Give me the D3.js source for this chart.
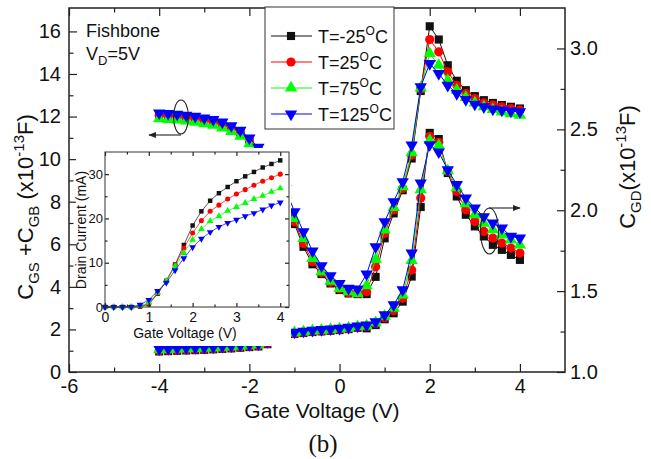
<!DOCTYPE html>
<html>
<head>
<meta charset="utf-8">
<style>
  body { margin: 0; background: #fff; }
  text { font-family: "Liberation Sans", Arial, sans-serif; fill: #111; }
</style>
</head>
<body>
<script src="https://d3js.org/d3.v7.min.js"></script>
<div id="chart"></div>
<script>
// gate voltage steps of the main plot
const vg = [-4,-3.8,-3.6,-3.4,-3.2,-3,-2.8,-2.6,-2.4,-2.2,-2,-1.8,-1.6,-1.4,-1.2,-1,-0.8,-0.6,-0.4,-0.2,
            0,0.2,0.4,0.6,0.8,1,1.2,1.4,1.6,1.8,2,2.2,2.4,2.6,2.8,3,3.2,3.4,3.6,3.8,4];

// CGS+CGB (x1e-13 F), left axis
const cgsBlack = [12.10,12.07,12.04,11.99,11.94,11.86,11.79,11.67,11.50,11.28,10.92,10.45,9.95,9.30,8.20,
                  6.95,5.88,5.06,4.60,4.16,3.85,3.69,3.66,3.66,4.47,6.28,7.45,8.54,10.03,13.20,
                  16.24,15.62,14.41,13.68,13.24,12.96,12.77,12.64,12.54,12.46,12.38];
const cgsRed   = [12.05,12.02,11.99,11.94,11.89,11.81,11.74,11.62,11.45,11.23,10.87,10.40,9.90,9.25,8.25,
                  7.06,6.04,5.18,4.66,4.21,3.90,3.72,3.69,3.77,4.94,6.51,7.61,8.62,10.19,13.30,
                  15.62,15.04,14.10,13.47,13.08,12.85,12.64,12.54,12.46,12.38,12.30];
const cgsGreen = [11.90,11.87,11.84,11.79,11.74,11.66,11.59,11.47,11.30,11.08,10.72,10.30,9.85,9.25,8.35,
                  7.21,6.28,5.34,4.71,4.27,3.93,3.77,3.69,4.05,5.29,6.67,7.73,8.70,10.30,13.35,
                  14.96,14.41,13.70,13.24,12.90,12.64,12.46,12.33,12.22,12.14,12.07];
const cgsBlue  = [12.17,12.14,12.11,12.06,12.01,11.93,11.86,11.74,11.57,11.35,10.99,10.55,10.05,9.45,8.60,
                  7.53,6.59,5.68,4.99,4.52,4.16,3.93,3.90,4.60,5.88,7.06,8.00,8.93,10.66,13.40,
                  14.49,14.02,13.47,13.08,12.80,12.58,12.46,12.35,12.30,12.26,12.22];

// CGD (x1e-13 F), right axis
const cgdBlack = [1.127,1.129,1.131,1.133,1.135,1.137,1.140,1.143,1.146,1.150,1.154,1.158,1.172,1.192,1.212,
                  1.235,1.241,1.247,1.251,1.255,1.259,1.265,1.273,1.27,1.29,1.326,1.363,1.435,1.59,2.02,
                  2.478,2.44,2.23,2.085,1.972,1.90,1.838,1.786,1.755,1.724,1.693];
const cgdRed   = [1.131,1.133,1.135,1.137,1.139,1.141,1.144,1.147,1.150,1.154,1.158,1.162,1.176,1.196,1.216,
                  1.238,1.244,1.250,1.254,1.258,1.262,1.268,1.276,1.28,1.30,1.335,1.38,1.456,1.63,2.075,
                  2.457,2.42,2.24,2.116,2.003,1.93,1.869,1.828,1.797,1.766,1.735];
const cgdGreen = [1.138,1.140,1.142,1.144,1.146,1.148,1.151,1.154,1.157,1.161,1.165,1.169,1.183,1.203,1.223,
                  1.243,1.249,1.255,1.259,1.263,1.267,1.273,1.281,1.285,1.305,1.345,1.395,1.477,1.69,2.127,
                  2.432,2.40,2.245,2.14,2.04,1.972,1.92,1.879,1.848,1.817,1.786];
const cgdBlue  = [1.143,1.145,1.147,1.149,1.151,1.153,1.156,1.159,1.162,1.166,1.170,1.174,1.188,1.208,1.228,
                  1.246,1.252,1.258,1.262,1.266,1.270,1.276,1.284,1.29,1.31,1.353,1.415,1.508,1.735,2.168,
                  2.405,2.36,2.25,2.158,2.075,2.014,1.96,1.92,1.89,1.838,1.828];

// inset: drain current (mA)
const vgInset = [0,0.2,0.4,0.6,0.8,1,1.2,1.4,1.6,1.8,2,2.2,2.4,2.6,2.8,3,3.2,3.4,3.6,3.8,4];
const idBlack = [0,0,0,0,0.1,0.6,3.0,5.9,9.6,14.0,18.4,21.6,24.0,25.7,27.1,28.4,29.5,30.5,31.5,32.3,33.1];
const idRed   = [0,0,0,0,0.15,0.8,3.1,5.9,9.4,13.3,16.7,19.5,21.6,23.0,24.4,25.5,26.5,27.5,28.4,29.2,30.0];
const idGreen = [0,0,0,0,0.2,1.0,3.2,5.9,9.2,12.2,15.2,17.6,19.4,20.5,21.7,22.6,23.5,24.4,25.1,26.0,26.8];
const idBlue  = [0,0,0,0,0.5,1.6,3.6,5.5,8.3,11.0,13.5,15.4,16.9,18.1,19.0,19.7,20.5,21.2,22.0,22.9,23.6];

const temps = ["-25", "25", "75", "125"];
const colors = ["#111111", "#ff0000", "#00ff00", "#0000ff"];
const shapes = ["square", "circle", "up", "down"];

const xTicks = [-6,-4,-2,0,2,4];
const xMinor = [-5,-3,-1,1,3];
const yLTicks = [0,2,4,6,8,10,12,14,16];
const yLMinor = [1,3,5,7,9,11,13,15];
const yRTicks = [1.0,1.5,2.0,2.5,3.0];
const yRMinor = [1.25,1.75,2.25,2.75];
const xiTicks = [0,1,2,3,4];
const xiMinor = [0.5,1.5,2.5,3.5];
const yiTicks = [0,10,20,30];
const yiMinor = [5,15,25];

const width = 651, height = 459;
const svg = d3.select("#chart").append("svg")
  .attr("width", width).attr("height", height)
  .style("background", "#fff");

// main plot box
const L = 69, R = 565, T = 8, B = 372;
const x = d3.scaleLinear().domain([-6, 5]).range([L, R]);
const yL = d3.scaleLinear().domain([0, 17.1]).range([B, T]);
const yR = d3.scaleLinear().domain([1, 3.25]).range([B, T]);

// marker path generator
function marker(shape, s) {
  if (shape == "square") return d3.symbol(d3.symbolSquare, s)();
  if (shape == "circle") return d3.symbol(d3.symbolCircle, s)();
  return d3.symbol(d3.symbolTriangle, s)();
}
function drawSeries(g, xs, ys, sx, sy, k, msize, lw) {
  const pts = xs.map((v, i) => [sx(v), sy(ys[i])]);
  g.append("path")
    .attr("d", d3.line()(pts))
    .attr("fill", "none")
    .attr("stroke", colors[k])
    .attr("stroke-width", lw);
  pts.forEach(p => {
    g.append("path")
      .attr("d", marker(shapes[k], msize))
      .attr("transform", "translate(" + p[0] + "," + p[1] + ")" + (shapes[k] == "down" ? " rotate(180)" : ""))
      .attr("fill", colors[k]);
  });
}

const main = svg.append("g");
const cgs = [cgsBlack, cgsRed, cgsGreen, cgsBlue];
const cgd = [cgdBlack, cgdRed, cgdGreen, cgdBlue];
cgd.forEach((s, k) => drawSeries(main, vg, s, x, yR, k, 66, 1));
cgs.forEach((s, k) => drawSeries(main, vg, s, x, yL, k, 66, 1));

// ticks (inward on all sides)
function noDomain(g) { g.select(".domain").remove(); g.selectAll("line").attr("stroke", "#222").attr("stroke-width", 1.3); }
svg.append("g").attr("transform", "translate(0," + B + ")")
  .call(d3.axisBottom(x).tickValues(xTicks).tickSize(-8).tickPadding(7).tickFormat(d => String(d)))
  .call(noDomain).selectAll("text").style("font-size", "20px").attr("font-family", null);
svg.append("g").attr("transform", "translate(0," + B + ")")
  .call(d3.axisBottom(x).tickValues(xMinor).tickSize(-4.5).tickFormat("")).call(noDomain);
svg.append("g").attr("transform", "translate(0," + T + ")")
  .call(d3.axisTop(x).tickValues(xTicks).tickSize(-8).tickFormat("")).call(noDomain);
svg.append("g").attr("transform", "translate(0," + T + ")")
  .call(d3.axisTop(x).tickValues(xMinor).tickSize(-4.5).tickFormat("")).call(noDomain);
svg.append("g").attr("transform", "translate(" + L + ",0)")
  .call(d3.axisLeft(yL).tickValues(yLTicks).tickSize(-8).tickPadding(8).tickFormat(d => String(d)))
  .call(noDomain).selectAll("text").style("font-size", "20px").attr("font-family", null);
svg.append("g").attr("transform", "translate(" + L + ",0)")
  .call(d3.axisLeft(yL).tickValues(yLMinor).tickSize(-4.5).tickFormat("")).call(noDomain);
svg.append("g").attr("transform", "translate(" + R + ",0)")
  .call(d3.axisRight(yR).tickValues(yRTicks).tickSize(-8).tickPadding(5).tickFormat(d3.format(".1f")))
  .call(noDomain).selectAll("text").style("font-size", "20px").attr("font-family", null);
svg.append("g").attr("transform", "translate(" + R + ",0)")
  .call(d3.axisRight(yR).tickValues(yRMinor).tickSize(-4.5).tickFormat("")).call(noDomain);

svg.append("rect")
  .attr("x", L).attr("y", T).attr("width", R - L).attr("height", B - T)
  .attr("fill", "none").attr("stroke", "#222").attr("stroke-width", 1.5);

// annotation ellipses and arrows
svg.append("defs").append("marker")
  .attr("id", "ah").attr("viewBox", "0 0 10 10").attr("refX", 9).attr("refY", 5)
  .attr("markerWidth", 9).attr("markerHeight", 7).attr("orient", "auto")
  .append("path").attr("d", "M0,1 L10,5 L0,9 Z").attr("fill", "#222");
svg.append("ellipse").attr("cx", 181).attr("cy", 117).attr("rx", 7.5).attr("ry", 17)
  .attr("fill", "none").attr("stroke", "#222").attr("stroke-width", 1.1);
svg.append("line").attr("x1", 181).attr("y1", 135).attr("x2", 149).attr("y2", 135)
  .attr("stroke", "#222").attr("stroke-width", 1.1).attr("marker-end", "url(#ah)");
svg.append("ellipse").attr("cx", 489.5).attr("cy", 231).attr("rx", 9).attr("ry", 23)
  .attr("fill", "none").attr("stroke", "#222").attr("stroke-width", 1.1);
svg.append("line").attr("x1", 489).attr("y1", 208).attr("x2", 520).attr("y2", 208)
  .attr("stroke", "#222").attr("stroke-width", 1.1).attr("marker-end", "url(#ah)");

// inset (white patch hides the main curves)
svg.append("rect").attr("x", 76).attr("y", 148).attr("width", 215).attr("height", 198).attr("fill", "#fff");
const iL = 105, iR = 289, iT = 152, iB = 307;
const xi = d3.scaleLinear().domain([0, 4.2]).range([iL, iR]);
const yi = d3.scaleLinear().domain([0, 35]).range([iB, iT]);
const inset = svg.append("g");
[idBlack, idRed, idGreen, idBlue].forEach((s, k) => drawSeries(inset, vgInset, s, xi, yi, k, 20, 0.7));

svg.append("g").attr("transform", "translate(0," + iB + ")")
  .call(d3.axisBottom(xi).tickValues(xiTicks).tickSize(-4).tickPadding(5).tickFormat(d => String(d)))
  .call(noDomain).selectAll("text").style("font-size", "14px").attr("font-family", null);
svg.append("g").attr("transform", "translate(0," + iB + ")")
  .call(d3.axisBottom(xi).tickValues(xiMinor).tickSize(-2.5).tickFormat("")).call(noDomain);
svg.append("g").attr("transform", "translate(0," + iT + ")")
  .call(d3.axisTop(xi).tickValues(xiTicks).tickSize(-4).tickFormat("")).call(noDomain);
svg.append("g").attr("transform", "translate(0," + iT + ")")
  .call(d3.axisTop(xi).tickValues(xiMinor).tickSize(-2.5).tickFormat("")).call(noDomain);
svg.append("g").attr("transform", "translate(" + iL + ",0)")
  .call(d3.axisLeft(yi).tickValues(yiTicks).tickSize(-4).tickPadding(2).tickFormat(d => String(d)))
  .call(noDomain).selectAll("text").style("font-size", "13px").attr("font-family", null);
svg.append("g").attr("transform", "translate(" + iL + ",0)")
  .call(d3.axisLeft(yi).tickValues(yiMinor).tickSize(-2.5).tickFormat("")).call(noDomain);
svg.append("g").attr("transform", "translate(" + iR + ",0)")
  .call(d3.axisRight(yi).tickValues(yiTicks).tickSize(-4).tickFormat("")).call(noDomain);
svg.append("g").attr("transform", "translate(" + iR + ",0)")
  .call(d3.axisRight(yi).tickValues(yiMinor).tickSize(-2.5).tickFormat("")).call(noDomain);
svg.selectAll(".tick line").attr("stroke-width", 1.2);
svg.append("rect")
  .attr("x", iL).attr("y", iT).attr("width", iR - iL).attr("height", iB - iT)
  .attr("fill", "none").attr("stroke", "#333").attr("stroke-width", 1);
svg.append("text").attr("x", 185).attr("y", 338).attr("text-anchor", "middle")
  .style("font-size", "14px").text("Gate Voltage (V)");
svg.append("text").attr("transform", "translate(86,230) rotate(-90)").attr("text-anchor", "middle")
  .style("font-size", "14px").text("Drain Current (mA)");

// legend
const lg = svg.append("g");
lg.append("rect").attr("x", 265).attr("y", 7).attr("width", 129).attr("height", 122)
  .attr("fill", "#fff").attr("stroke", "#333").attr("stroke-width", 1);
temps.forEach((t, k) => {
  const yy = 36 + k * 26;
  lg.append("line").attr("x1", 271).attr("x2", 312).attr("y1", yy).attr("y2", yy)
    .attr("stroke", colors[k]).attr("stroke-width", 1);
  lg.append("path").attr("d", marker(shapes[k], 66))
    .attr("transform", "translate(291," + yy + ")" + (shapes[k] == "down" ? " rotate(180)" : ""))
    .attr("fill", colors[k]);
  const tx = lg.append("text").attr("x", 318).attr("y", yy + 6.5).style("font-size", "18px");
  tx.append("tspan").text("T=" + t);
  tx.append("tspan").attr("dy", -8).style("font-size", "12px").text("O");
  tx.append("tspan").attr("dy", 8).text("C");
});

// labels
svg.append("text").attr("x", 86).attr("y", 37).style("font-size", "18px").text("Fishbone");
const vd = svg.append("text").attr("x", 86).attr("y", 60).style("font-size", "18px");
vd.append("tspan").text("V");
vd.append("tspan").attr("dy", 5).style("font-size", "13px").text("D");
vd.append("tspan").attr("dy", -5).text("=5V");

svg.append("text").attr("x", 322).attr("y", 418).attr("text-anchor", "middle")
  .style("font-size", "21px").text("Gate Voltage (V)");
svg.append("text").attr("x", 323).attr("y", 452).attr("text-anchor", "middle")
  .style("font-size", "25px").style("font-family", "'Liberation Serif', 'Times New Roman', serif")
  .text("(b)");

const yt = svg.append("text").attr("transform", "translate(33,207) rotate(-90)")
  .attr("text-anchor", "middle").style("font-size", "22px");
yt.append("tspan").text("C");
yt.append("tspan").attr("dy", 6).style("font-size", "15px").text("GS");
yt.append("tspan").attr("dy", -6).text(" +C");
yt.append("tspan").attr("dy", 6).style("font-size", "15px").text("GB");
yt.append("tspan").attr("dy", -6).text(" (x10");
yt.append("tspan").attr("dy", -9).style("font-size", "15px").text("-13");
yt.append("tspan").attr("dy", 9).text("F)");

const rt = svg.append("text").attr("transform", "translate(635,167) rotate(-90)")
  .attr("text-anchor", "middle").style("font-size", "22px");
rt.append("tspan").text("C");
rt.append("tspan").attr("dy", 6).style("font-size", "15px").text("GD");
rt.append("tspan").attr("dy", -6).text("(x10");
rt.append("tspan").attr("dy", -9).style("font-size", "15px").text("-13");
rt.append("tspan").attr("dy", 9).text("F)");
</script>
</body>
</html>
